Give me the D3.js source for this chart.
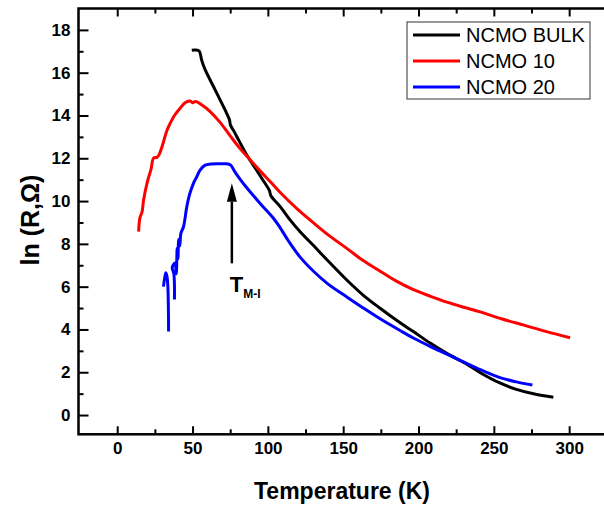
<!DOCTYPE html>
<html lang="en">
<head>
  <meta charset="utf-8">
  <title>ln R vs Temperature</title>
  <script src="https://d3js.org/d3.v7.min.js" charset="utf-8"></script>
  <style>
    body { margin: 0; background: #fff; }
    text { font-family: "Liberation Sans", Arial, sans-serif; }
  </style>
</head>
<body>
  <script>
    // series: [temperature K, ln R]
    var bulk = [
      [49.5, 17.05], [52, 17.06], [54.5, 17.0], [56, 16.6], [58, 16.2], [61.7, 15.66],
      [65, 15.2], [68.3, 14.73], [72, 14.2], [74.5, 13.8], [75.2, 13.55], [78, 13.2],
      [81, 12.8], [86, 12.15], [92, 11.5], [97, 10.95], [101, 10.5], [102, 10.25],
      [108.2, 9.74], [115, 9.1], [121.4, 8.57], [130.3, 7.92], [140, 7.2], [152.4, 6.31],
      [163, 5.62], [174.5, 4.99], [187.8, 4.31], [196.6, 3.9], [208, 3.35], [218.8, 2.88],
      [231, 2.42], [241, 1.98], [254, 1.5], [265, 1.2], [277, 0.98], [289.5, 0.83]
    ];
    var ncmo10 = [
      [14.2, 8.57], [14.8, 9.1], [15.3, 9.27], [16.5, 9.5], [17.5, 10.05], [20, 10.9],
      [22.5, 11.5], [24.1, 12.0], [26.5, 12.05], [28, 12.2], [30, 12.6], [33, 13.3],
      [35.2, 13.64], [38, 14.0], [41.8, 14.34], [45, 14.6], [48.4, 14.68], [50, 14.6],
      [52, 14.65], [56, 14.5], [61.7, 14.18], [68, 13.7], [75, 13.05], [81, 12.5],
      [88.3, 11.92], [95, 11.4], [101.5, 10.91], [108.2, 10.4], [120, 9.6], [130.3, 8.98],
      [140, 8.42], [152.4, 7.79], [163, 7.23], [174.5, 6.72], [185, 6.27], [196.6, 5.86],
      [208, 5.55], [218.8, 5.28], [230, 5.04], [240.9, 4.82], [255, 4.5], [270, 4.2],
      [285, 3.9], [300.6, 3.61]
    ];
    // null marks the gap between the two pieces at low temperature
    var ncmo20 = [
      [30.7, 6.0], [31.5, 6.4], [32.3, 6.65], [33.2, 6.4], [34.1, 3.9], null,
      [38.0, 5.4], [37.6, 6.6], [36.5, 6.9], [38.4, 7.1], [39.2, 6.6], [39.8, 7.8],
      [40.3, 7.3], [40.8, 8.2], [41.5, 7.9], [42.3, 8.5], [44, 8.8], [46.2, 9.74],
      [48, 10.3], [50.6, 10.83], [52.9, 11.15], [55, 11.45], [58.4, 11.68], [62, 11.73],
      [70, 11.74], [75, 11.7], [78, 11.38], [82, 10.98], [86, 10.62], [95, 9.88],
      [103.7, 9.2], [108.2, 8.75], [114, 8.1], [121.4, 7.38], [130.3, 6.72], [140, 6.12],
      [152.4, 5.52], [163, 5.02], [174.5, 4.5], [187.8, 3.95], [196.6, 3.6], [208, 3.2],
      [218.8, 2.85], [230.9, 2.45], [241, 2.12], [254, 1.75], [265, 1.55], [275.6, 1.4]
    ];

    var seriesNames = ["NCMO BULK", "NCMO 10", "NCMO 20"];
    var seriesColors = ["#000000", "#ff0000", "#0000ff"];
    var seriesData = [bulk, ncmo10, ncmo20];

    var xTicks = [0, 50, 100, 150, 200, 250, 300];
    var xMinor = [25, 75, 125, 175, 225, 275, 325];
    var yTicks = [0, 2, 4, 6, 8, 10, 12, 14, 16, 18];
    var yMinor = [1, 3, 5, 7, 9, 11, 13, 15, 17];

    // arrow marking T(M-I): temperature, tail, head base, tip
    var arrowT = 76.1;
    var arrowY = [7.09, 9.97, 10.83];

    var w = 604;
    var h = 510;
    // plot box (right edge runs past the window, as in the original)
    var pLeft = 78.5, pTop = 8.5, pRight = 624, pBottom = 434.3;

    var x = d3.scaleLinear().domain([-25.7, 336.4]).range([pLeft, pRight]);
    var y = d3.scaleLinear().domain([-0.9, 19.0]).range([pBottom, pTop]);

    var svg = d3.select("body")
      .append("svg")
      .attr("width", w)
      .attr("height", h);

    // ticks all point inwards
    function styleAxis(g, labels) {
      g.select(".domain").remove();
      g.selectAll(".tick line").attr("stroke", "#000").attr("stroke-width", 2);
      if (labels) {
        g.selectAll(".tick text")
          .attr("fill", "#000")
          .style("font-size", "17px")
          .style("font-weight", "bold");
      } else {
        g.selectAll(".tick text").remove();
      }
    }

    svg.append("g")
      .attr("transform", "translate(0," + pBottom + ")")
      .call(d3.axisBottom(x).tickValues(xTicks).tickSize(-8).tickPadding(8))
      .call(styleAxis, true);
    svg.append("g")
      .attr("transform", "translate(0," + pBottom + ")")
      .call(d3.axisBottom(x).tickValues(xMinor).tickSize(-5))
      .call(styleAxis, false);
    svg.append("g")
      .attr("transform", "translate(0," + pTop + ")")
      .call(d3.axisTop(x).tickValues(xTicks).tickSize(-8))
      .call(styleAxis, false);
    svg.append("g")
      .attr("transform", "translate(0," + pTop + ")")
      .call(d3.axisTop(x).tickValues(xMinor).tickSize(-5))
      .call(styleAxis, false);
    svg.append("g")
      .attr("transform", "translate(" + pLeft + ",0)")
      .call(d3.axisLeft(y).tickValues(yTicks).tickSize(-10).tickPadding(8))
      .call(styleAxis, true);
    svg.append("g")
      .attr("transform", "translate(" + pLeft + ",0)")
      .call(d3.axisLeft(y).tickValues(yMinor).tickSize(-5))
      .call(styleAxis, false);

    // frame
    svg.append("rect")
      .attr("x", pLeft)
      .attr("y", pTop)
      .attr("width", pRight - pLeft)
      .attr("height", pBottom - pTop)
      .attr("fill", "none")
      .attr("stroke", "#000")
      .attr("stroke-width", 2.5);

    // catmull-rom goes through every point and copes with the noisy blue start
    var line = d3.line()
      .defined(function (d) { return d !== null; })
      .curve(d3.curveCatmullRom.alpha(0.5))
      .x(function (d) { return x(d[0]); })
      .y(function (d) { return y(d[1]); });

    svg.selectAll("path.series")
      .data(seriesData)
      .enter()
      .append("path")
      .attr("class", "series")
      .attr("d", line)
      .attr("fill", "none")
      .attr("stroke", function (d, i) { return seriesColors[i]; })
      .attr("stroke-width", 3)
      .attr("stroke-linejoin", "round");

    // arrow + label
    var ax = x(arrowT);
    svg.append("line")
      .attr("x1", ax).attr("x2", ax)
      .attr("y1", y(arrowY[0])).attr("y2", y(arrowY[1]))
      .attr("stroke", "#000")
      .attr("stroke-width", 2.5);
    svg.append("polygon")
      .attr("points", [
        [ax, y(arrowY[2])],
        [ax - 5, y(arrowY[1])],
        [ax + 5, y(arrowY[1])]
      ].join(" "))
      .attr("fill", "#000");

    var lab = svg.append("text")
      .attr("x", ax - 2)
      .attr("y", y(5.76))
      .style("font-weight", "bold")
      .style("font-size", "22px");
    lab.append("tspan").text("T");
    lab.append("tspan")
      .attr("dy", 6)
      .style("font-size", "12px")
      .text("M-I");

    // axis titles
    svg.append("text")
      .attr("x", 342)
      .attr("y", 499)
      .attr("text-anchor", "middle")
      .style("font-weight", "bold")
      .style("font-size", "23px")
      .text("Temperature (K)");

    svg.append("text")
      .attr("text-anchor", "middle")
      .attr("transform", "translate(39,220) rotate(-90)")
      .style("font-weight", "bold")
      .style("font-size", "25px")
      .text("ln (R,Ω)");

    // legend
    var legend = svg.append("g");
    legend.append("rect")
      .attr("x", 407).attr("y", 22)
      .attr("width", 183).attr("height", 77)
      .attr("fill", "#fff")
      .attr("stroke", "#333")
      .attr("stroke-width", 1);

    var rows = legend.selectAll("g.row")
      .data(seriesNames)
      .enter()
      .append("g")
      .attr("class", "row")
      .attr("transform", function (d, i) { return "translate(413," + (35 + i * 26) + ")"; });
    rows.append("line")
      .attr("x1", 0).attr("x2", 47)
      .attr("stroke", function (d, i) { return seriesColors[i]; })
      .attr("stroke-width", 3);
    rows.append("text")
      .attr("x", 53)
      .attr("dy", "0.35em")
      .style("font-size", "20px")
      .text(function (d) { return d; });
  </script>
</body>
</html>
